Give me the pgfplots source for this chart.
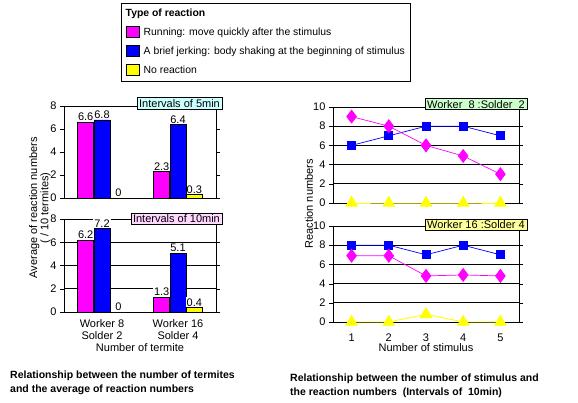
\documentclass[border=0pt]{standalone}
\usepackage{fontspec}
\setmainfont{Liberation Sans}
\usepackage{pgfplots}
\pgfplotsset{compat=1.18}

\definecolor{cmag}{HTML}{FF00FF}
\definecolor{cblue}{HTML}{0000FF}
\definecolor{cyel}{HTML}{FFFF00}
\definecolor{boxcyan}{HTML}{CCFFFF}
\definecolor{boxpink}{HTML}{FFD9FF}
\definecolor{boxgreen}{HTML}{CCFFCC}
\definecolor{boxyel}{HTML}{FFFF99}

\newcommand{\txt}{\fontsize{11}{13}\selectfont}

\tikzset{
  tagbox/.style={draw=black, inner xsep=2pt, inner ysep=1.5pt, font=\txt, anchor=east},
}

\pgfplotsset{
  base/.style={
    scale only axis,
    font=\txt,
    /pgf/number format/assume math mode=true,
    axis line style={black},
    tick style={black},
    tick align=outside,
    major tick length=4pt,
    clip=false,
  },
  barax/.style={
    base,
    width=152pt,
    ybar,
    bar width=0.21,
    xmin=-0.5, xmax=1.5,
    ymin=0, ymax=8,
    ytick={0,2,4,6,8},
    nodes near coords,
    every node near coord/.append style={font=\txt, inner sep=1pt, text=black},
  },
  lineax/.style={
    base,
    width=186pt, height=96pt,
    xmin=0.5, xmax=5.5,
    ymin=0, ymax=10,
    ytick={0,2,4,6,8,10},
    ymajorgrids=true,
    grid style={black, line width=0.8pt},
  },
  sq legend/.style={
    legend image code/.code={\draw[##1, draw=black] (0pt,-4.5pt) rectangle (12.5pt,6pt);}
  },
  magline/.style={cmag, line width=0.7pt, mark=diamond*, mark size=6.5pt, mark options={fill=cmag, draw=cmag}},
  blueline/.style={cblue, line width=0.7pt, mark=square*, mark size=4pt, mark options={fill=cblue, draw=cblue}},
  yelline/.style={cyel, line width=0.9pt, mark=triangle*, mark size=6.5pt, mark options={fill=cyel, draw=cyel}},
}

\begin{document}
\begin{tikzpicture}
\useasboundingbox (0pt,0pt) rectangle (578pt,402pt);

% left top: intervals of 5 min
\begin{axis}[
  barax,
  at={(64pt,204pt)}, anchor=south west,
  height=92pt,
  xtick=\empty,
  legend style={at={(axis description cs:0.375,2.12)}, anchor=north west,
    draw=black, line width=0.8pt, font=\fontsize{10.4}{12}\selectfont, row sep=7pt,
    nodes={inner sep=1pt, line width=0.4pt}, inner xsep=5pt, inner ysep=5pt},
  legend cell align=left,
]
\addlegendimage{empty legend}
\addlegendentry{\hspace*{-15pt}\textbf{Type of reaction}}
\addplot+[bar shift=0pt, fill=cmag, draw=black, sq legend] coordinates {(-0.215,6.6) (0.785,2.3)};
\addlegendentry{\hspace{3pt}Running: move quickly after the stimulus}
\addplot+[bar shift=0pt, fill=cblue, draw=black, sq legend] coordinates {(0,6.8) (1,6.4)};
\addlegendentry{\hspace{3pt}A brief jerking: body shaking at the beginning of stimulus}
\addplot+[bar shift=0pt, fill=cyel, draw=black, sq legend] coordinates {(0.215,0) (1.215,0.3)};
\addlegendentry{\hspace{3pt}No reaction}
\node[tagbox, fill=boxcyan] at (rel axis cs:1.04,1.03) {Intervals of 5min};
\end{axis}

% left bottom: intervals of 10 min
\begin{axis}[
  barax,
  at={(64pt,90pt)}, anchor=south west,
  height=93pt,
  ymajorgrids=true,
  grid style={black, line width=0.8pt},
  every node near coord/.append style={fill=white},
  xtick={0,1},
  xticklabels={Worker 8\\Solder 2, Worker 16\\Solder 4},
  xticklabel style={align=center, font=\fontsize{11}{12}\selectfont},
  x tick style={draw=none},
  xlabel={Number of termite},
  xlabel style={yshift=3pt},
  ylabel={Average of reaction numbers\\( / 10 termites)},
  ylabel style={align=center, font=\fontsize{11}{10}\selectfont,
    at={(axis description cs:-0.158,1.12)}, anchor=center},
]
\addplot+[bar shift=0pt, fill=cmag, draw=black] coordinates {(-0.215,6.2) (0.785,1.3)};
\addplot+[bar shift=0pt, fill=cblue, draw=black] coordinates {(0,7.2) (1,5.1)};
\addplot+[bar shift=0pt, fill=cyel, draw=black] coordinates {(0.215,0) (1.215,0.4)};
\node[tagbox, fill=boxpink] at (rel axis cs:1.04,1.005) {Intervals of 10min};
\end{axis}

% right top: worker 8 / solder 2
\begin{axis}[
  lineax,
  at={(333pt,199pt)}, anchor=south west,
  xtick=\empty,
]
\addplot[yelline] coordinates {(1,0) (2,0) (3,0) (4,0) (5,0)};
\addplot[blueline] coordinates {(1,6) (2,7) (3,8) (4,8) (5,7)};
\addplot[magline] coordinates {(1,9) (2,8) (3,6) (4,4.9) (5,3)};
\node[tagbox, fill=boxgreen] at (rel axis cs:1.043,1.03) {Worker\ \ 8 :Solder\ \ 2};
\end{axis}

% right bottom: worker 16 / solder 4
\begin{axis}[
  lineax,
  at={(333pt,80pt)}, anchor=south west,
  xtick={1,2,3,4,5},
  x tick style={draw=none},
  xticklabel style={yshift=-4pt},
  xlabel={Number of stimulus},
  xlabel style={yshift=5pt},
  ylabel={Reaction numbers},
  ylabel style={at={(axis description cs:-0.129,1.23)}, anchor=center},
]
\addplot[yelline] coordinates {(1,0) (2,0) (3,0.8) (4,0) (5,0)};
\addplot[blueline] coordinates {(1,8) (2,8) (3,7) (4,8) (5,7)};
\addplot[magline] coordinates {(1,6.9) (2,6.9) (3,4.8) (4,4.9) (5,4.8)};
\node[tagbox, fill=boxyel] at (rel axis cs:1.043,1.01) {Worker 16 :Solder 4};
\end{axis}

% captions
\node[anchor=north west, align=left, font=\fontsize{10.5}{14}\selectfont\bfseries, inner sep=0pt] at (10pt,31pt)
  {Relationship between the number of termites\\and the average of reaction numbers};
\node[anchor=north west, align=left, font=\fontsize{10.5}{14}\selectfont\bfseries, inner sep=0pt] at (290pt,28pt)
  {Relationship between the number of stimulus and\\the reaction numbers\ \ (Intervals of\ \ 10min)};
\end{tikzpicture}
\end{document}
